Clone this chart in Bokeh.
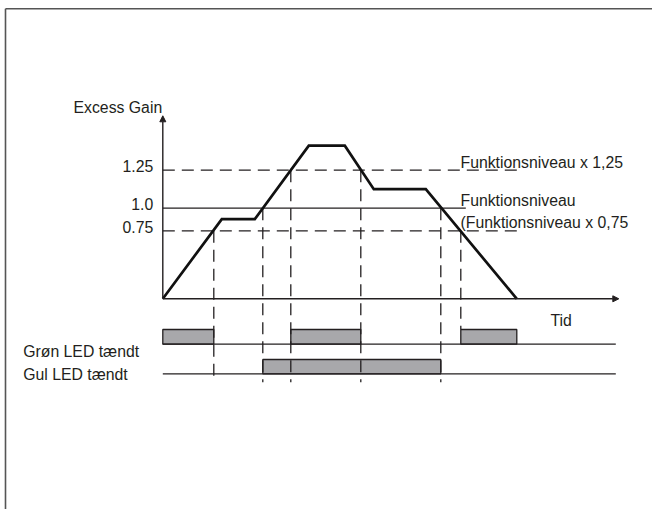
from bokeh.plotting import figure
from bokeh.models import Range1d, Arrow, NormalHead
from bokeh.embed import file_html
from bokeh.resources import INLINE
from bokeh.core.properties import value

# ---------------- data (schematic units) ----------------
# Excess gain curve: time (arbitrary units) and gain (multiples of Funktionsniveau, schematic)
curve_time = [0, 5.9, 9.2, 14.6, 18.2, 21.1, 26.3, 35.4]
curve_gain = [0, 0.88, 0.88, 1.69, 1.69, 1.21, 1.21, 0]

# threshold levels (drawn height on the schematic gain axis), tick labels and names
level_gain = [0.75, 1.0, 1.42]
level_ticks = ["0.75", "1.0", "1.25"]
level_names = ["(Funktionsniveau x 0,75", "Funktionsniveau", "Funktionsniveau x 1,25"]
level_end_time = [35.4, 30.3, 35.4]

# times where the curve crosses a level
cross_time = [5.1, 10.0, 12.8, 19.8, 27.8, 29.8]
cross_gain = [0.75, 1.0, 1.42, 1.42, 1.0, 0.75]

# LED on-intervals
green_start = [0, 12.8, 29.8]
green_end = [5.1, 19.8, 35.4]
yellow_start = [10.0]
yellow_end = [27.8]

axis_labels = ["Excess Gain", "Tid"]
row_labels = ["Grøn LED tændt", "Gul LED tændt"]

# ---------------- layout / style constants ----------------
INK = "#231f20"
DASH = "12 7"
FONT = value("Liberation Sans")
FS = "15.8px"
T_END_AXIS = 45.6
T_END_ROW = 45.3
G_AXIS_TOP = 2.02
GREEN_BASE, GREEN_TOP = -0.501, -0.339
YELLOW_BASE, YELLOW_TOP = -0.828, -0.670
VLINE_BOTTOM = -0.92
W, H = 652, 509
X0, X1 = (0 - 162.3) / 10, (W - 162.3) / 10
Y0, Y1 = (298.3 - H) / 90.6, 298.3 / 90.6

p = figure(width=W, height=H, output_backend="svg", toolbar_location=None,
           x_range=Range1d(X0, X1), y_range=Range1d(Y0, Y1),
           x_axis_type=None, y_axis_type=None, min_border=0)
p.grid.visible = False
p.outline_line_color = None
p.background_fill_color = "white"
p.border_fill_color = "white"

# outer frame (top and left edges)
p.segment(x0=[-15.73, -15.73], y0=[3.201, 3.201], x1=[X1, -15.73], y1=[3.201, Y0],
          line_color="#555555", line_width=1.6)

# LED bars
p.quad(left=green_start, right=green_end, bottom=[GREEN_BASE] * len(green_start),
       top=[GREEN_TOP] * len(green_start), fill_color="#a8a8ab", line_color=INK, line_width=1.3)
p.quad(left=yellow_start, right=yellow_end, bottom=[YELLOW_BASE] * len(yellow_start),
       top=[YELLOW_TOP] * len(yellow_start), fill_color="#a8a8ab", line_color=INK, line_width=1.3)
# LED row base lines
p.segment(x0=[0, 0], y0=[GREEN_BASE, YELLOW_BASE], x1=[T_END_ROW, T_END_ROW],
          y1=[GREEN_BASE, YELLOW_BASE], line_color=INK, line_width=1.3)

# level lines
for g, te, nm in zip(level_gain, level_end_time, level_ticks):
    p.line([0, te], [g, g], line_color=INK, line_width=1.3,
           line_dash="solid" if nm == "1.0" else DASH)

# vertical dashed lines from crossings down to the LED rows
bottoms = [VLINE_BOTTOM] * len(cross_time)
bottoms[-1] = GREEN_TOP
p.segment(x0=cross_time, y0=cross_gain, x1=cross_time, y1=bottoms,
          line_color=INK, line_width=1.3, line_dash=DASH)

# axes with arrowheads
p.add_layout(Arrow(x_start=0, y_start=0, x_end=T_END_AXIS, y_end=0, line_color=INK, line_width=1.4,
                   end=NormalHead(size=6, fill_color=INK, line_color=INK)))
p.add_layout(Arrow(x_start=0, y_start=0, x_end=0, y_end=G_AXIS_TOP, line_color=INK, line_width=1.4,
                   end=NormalHead(size=6, fill_color=INK, line_color=INK)))

# the excess-gain curve
p.line(curve_time, curve_gain, line_color="#111111", line_width=2.7, line_join="miter")

# texts
p.text(x=[-0.96] * 3, y=[g + 0.045 for g in level_gain], text=level_ticks,
       text_align="right", text_baseline="middle", text_font=FONT, text_font_size=FS, text_color=INK)
p.text(x=[29.77] * 3, y=[g + 0.088 for g in level_gain], text=level_names,
       text_align="left", text_baseline="middle", text_font=FONT, text_font_size=FS, text_color=INK)
p.text(x=[-0.06], y=[2.106], text=[axis_labels[0]], text_align="right", text_baseline="middle",
       text_font=FONT, text_font_size=FS, text_color=INK)
p.text(x=[38.77], y=[-0.245], text=[axis_labels[1]], text_align="left", text_baseline="middle",
       text_font=FONT, text_font_size=FS, text_color=INK)
p.text(x=[-13.96, -13.96], y=[-0.582, -0.836], text=row_labels, text_align="left",
       text_baseline="middle", text_font=FONT, text_font_size=FS, text_color=INK)

open("out.html", "w").write(file_html(p, INLINE))
